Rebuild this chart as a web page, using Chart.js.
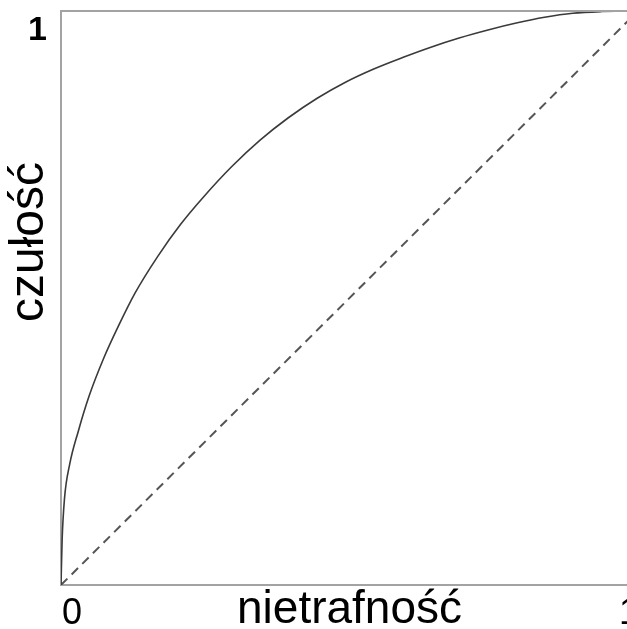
<!DOCTYPE html>
<html>
<head>
<meta charset="utf-8">
<script src="https://cdn.jsdelivr.net/npm/chart.js@4.4.1/dist/chart.umd.min.js"></script>
<style>
  html, body { margin: 0; padding: 0; background: #fff; overflow: hidden; }
  canvas { display: block; }
</style>
</head>
<body>
<canvas id="roc" width="642" height="629"></canvas>
<script>
// ROC curve: false positive rate vs. sensitivity
const fpr = [0, 0.002, 0.006, 0.015, 0.03, 0.049, 0.074, 0.099, 0.128, 0.168, 0.207, 0.247, 0.296, 0.345, 0.394, 0.444, 0.493, 0.542, 0.592, 0.641, 0.69, 0.74, 0.789, 0.838, 0.887, 0.937, 0.986, 1];
const tpr = [0, 0.08, 0.15, 0.21, 0.268, 0.33, 0.395, 0.45, 0.508, 0.573, 0.628, 0.676, 0.729, 0.775, 0.814, 0.848, 0.876, 0.899, 0.919, 0.937, 0.953, 0.967, 0.979, 0.989, 0.996, 0.999, 1, 1];

// chance line
const chanceX = [0, 1];
const chanceY = [0, 1];

const xTickValues = [0, 1];
const xTickLabels = ['0', '1'];
const yTickValues = [1];
const yTickLabels = ['1'];

const xTitle = 'nietrafność';
const yTitle = 'czułość';

const frameColor = '#a3a3a3';
const fontFamily = '"Liberation Sans", Arial, sans-serif';

const toPoints = (xs, ys) => xs.map((x, i) => ({ x: x, y: ys[i] }));

// top edge of the frame + rotated y title
const framePlugin = {
  id: 'frame',
  afterDraw(chart) {
    const { ctx, chartArea } = chart;
    ctx.save();
    ctx.strokeStyle = frameColor;
    ctx.lineWidth = 2;
    ctx.beginPath();
    ctx.moveTo(chartArea.left, chartArea.top);
    ctx.lineTo(chart.width, chartArea.top);
    ctx.stroke();

    ctx.translate(43, 242);
    ctx.rotate(-Math.PI / 2);
    ctx.fillStyle = '#000';
    ctx.font = '48px ' + fontFamily;
    ctx.textAlign = 'center';
    ctx.textBaseline = 'alphabetic';
    ctx.fillText(yTitle, 0, 0);
    ctx.restore();
  }
};

new Chart(document.getElementById('roc'), {
  type: 'scatter',
  data: {
    datasets: [
      {
        data: toPoints(fpr, tpr),
        showLine: true,
        borderColor: '#3a3a3a',
        borderWidth: 1.6,
        pointRadius: 0,
        cubicInterpolationMode: 'monotone'
      },
      {
        data: toPoints(chanceX, chanceY),
        showLine: true,
        borderColor: '#555',
        borderWidth: 2,
        borderDash: [9, 6],
        pointRadius: 0
      }
    ]
  },
  options: {
    responsive: false,
    animation: false,
    devicePixelRatio: 1,
    layout: { padding: { top: 11, right: 4, left: 0, bottom: 0 } },
    plugins: {
      legend: { display: false },
      tooltip: { enabled: false }
    },
    scales: {
      x: {
        type: 'linear',
        min: 0,
        max: 1,
        grid: { display: false },
        border: { display: true, color: frameColor, width: 2 },
        afterBuildTicks: s => { s.ticks = xTickValues.map(v => ({ value: v })); },
        afterFit: s => { s.height = 44; s.paddingLeft = 0; s.paddingRight = 0; },
        ticks: {
          color: '#000',
          font: { family: fontFamily, size: 36 },
          padding: -1,
          align: 'inner',
          labelOffset: 1,
          maxRotation: 0,
          autoSkip: false,
          callback: (v, i) => xTickLabels[i]
        },
        title: {
          display: true,
          text: xTitle,
          color: '#000',
          font: { family: fontFamily, size: 46, lineHeight: 1 },
          padding: { top: 0, bottom: -4 }
        }
      },
      y: {
        type: 'linear',
        min: 0,
        max: 1,
        grid: { display: false },
        border: { display: true, color: frameColor, width: 2 },
        afterBuildTicks: s => { s.ticks = yTickValues.map(v => ({ value: v })); },
        afterFit: s => { s.width = 61; s.paddingTop = 0; s.paddingBottom = 0; },
        ticks: {
          color: '#000',
          font: { family: fontFamily, size: 34, weight: 'bold' },
          padding: 6,
          labelOffset: 20,
          autoSkip: false,
          callback: (v, i) => yTickLabels[i]
        }
      }
    }
  },
  plugins: [framePlugin]
});
</script>
</body>
</html>
